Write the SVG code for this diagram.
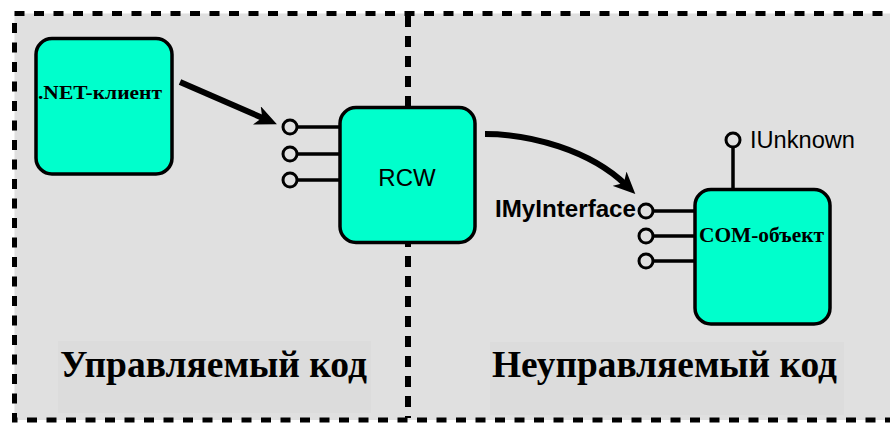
<svg xmlns="http://www.w3.org/2000/svg" width="890" height="423" viewBox="0 0 890 423">
<style>
.box{fill:#00FFCC;stroke:#000;stroke-width:3.5}
.stub{stroke:#000;stroke-width:3.5;fill:none}
.pin{fill:#E0E0E0;stroke:#000;stroke-width:3}
.serif{font-family:"Liberation Serif","Times New Roman",serif;font-weight:bold;fill:#000}
.sans{font-family:"Liberation Sans",Arial,sans-serif;fill:#000}
.arrow{stroke:#000;stroke-width:6;fill:none;marker-end:url(#head)}
</style>
<defs>
<marker id="head" markerUnits="userSpaceOnUse" viewBox="0 0 22 20" refX="9" refY="10" markerWidth="22" markerHeight="20" orient="auto">
<path d="M0,0 L22,10 L0,20 L6,10 z" fill="#000"/>
</marker>
</defs>
<rect x="0" y="0" width="890" height="423" fill="#FFFFFF"/>
<g id="frame">
<rect x="14.5" y="13.5" width="900" height="406.5" fill="#E0E0E0" stroke="#000" stroke-width="5" stroke-dasharray="10 9.5"/>
<line x1="408" y1="16" x2="408" y2="418" stroke="#000" stroke-width="6" stroke-dasharray="11 9"/>
</g>
<g id="label-managed">
<rect x="58" y="341" width="313" height="72" fill="#DCDCDC"/>
<text class="serif" x="60" y="377" font-size="38" textLength="307" lengthAdjust="spacingAndGlyphs">Управляемый код</text>
</g>
<g id="label-unmanaged">
<rect x="490" y="342" width="354" height="73" fill="#DCDCDC"/>
<text class="serif" x="492" y="377" font-size="38" textLength="345" lengthAdjust="spacingAndGlyphs">Неуправляемый код</text>
</g>
<g id="net-client">
<rect class="box" x="36" y="38.5" width="136" height="135.5" rx="16"/>
<text class="serif" x="38" y="99" font-size="18.5" textLength="124" lengthAdjust="spacingAndGlyphs">.NET-клиент</text>
</g>
<g id="rcw">
<line class="stub" x1="297" y1="127" x2="340" y2="127"/>
<line class="stub" x1="297" y1="154" x2="340" y2="154"/>
<line class="stub" x1="297" y1="180" x2="340" y2="180"/>
<circle class="pin" cx="290" cy="127" r="7"/>
<circle class="pin" cx="290" cy="154" r="7"/>
<circle class="pin" cx="290" cy="180" r="7"/>
<rect class="box" x="340" y="107.5" width="135" height="135" rx="16"/>
<text class="sans" x="407" y="186" font-size="24" text-anchor="middle">RCW</text>
</g>
<g id="com-object">
<line class="stub" x1="653" y1="211" x2="696" y2="211"/>
<line class="stub" x1="653" y1="236" x2="696" y2="236"/>
<line class="stub" x1="653" y1="261" x2="696" y2="261"/>
<line class="stub" x1="733" y1="147" x2="733" y2="190"/>
<circle class="pin" cx="646" cy="211" r="7"/>
<circle class="pin" cx="646" cy="236" r="7"/>
<circle class="pin" cx="646" cy="261" r="7"/>
<circle class="pin" cx="733" cy="140" r="7"/>
<rect class="box" x="695" y="189.5" width="135" height="134.5" rx="16"/>
<text class="serif" x="699" y="242" font-size="20" textLength="125" lengthAdjust="spacingAndGlyphs">COM-объект</text>
<text class="sans" x="750" y="148" font-size="23" textLength="105" lengthAdjust="spacingAndGlyphs">IUnknown</text>
<text class="sans" x="495" y="217" font-size="23" font-weight="bold" textLength="141" lengthAdjust="spacingAndGlyphs">IMyInterface</text>
</g>
<g id="connectors">
<line class="arrow" x1="180" y1="82" x2="265" y2="119"/>
<path class="arrow" d="M485,134 C530,134 590,150 626,185"/>
</g>
</svg>
